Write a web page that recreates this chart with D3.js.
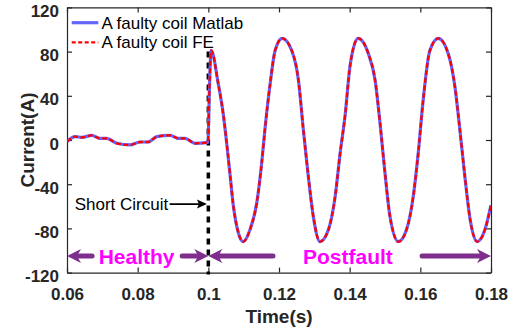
<!DOCTYPE html>
<html>
<head>
<meta charset="utf-8">
<script src="https://cdn.jsdelivr.net/npm/d3@7"></script>
<style>
  html, body { margin: 0; padding: 0; background: #fff; }
  svg { display: block; }
  text { font-family: "Liberation Sans", Arial, Helvetica, sans-serif; }
</style>
</head>
<body>
<svg id="chart" width="523" height="330"></svg>
<script>
// Sample times (s)
const timeS = [0.0600, 0.0623, 0.0642, 0.0670, 0.0693, 0.0712, 0.0741, 0.0778, 0.0807, 0.0830,
  0.0854, 0.0892, 0.0915, 0.0934, 0.0962, 0.0995, 0.0999, 0.1003, 0.1008, 0.1028,
  0.1042, 0.1052, 0.1061, 0.1071, 0.1085, 0.1099, 0.1118, 0.1137, 0.1151, 0.1160,
  0.1175, 0.1189, 0.1209, 0.1236, 0.1255, 0.1269, 0.1283, 0.1297, 0.1316, 0.1340,
  0.1359, 0.1373, 0.1387, 0.1401, 0.1424, 0.1453, 0.1472, 0.1486, 0.1500, 0.1514,
  0.1538, 0.1561, 0.1580, 0.1594, 0.1608, 0.1627, 0.1651, 0.1679, 0.1698, 0.1712,
  0.1726, 0.1741, 0.1761, 0.1783, 0.1800];

// Faulty coil current, Matlab model (A)
const currentMatlab = [-1.5, 3, 2.4, 4.2, 1.5, 1.5, -3, -4.5, -1.8, -1.8,
  3, 4.2, 1.5, 1.5, -3, -2.4, -2, 45, 81, 51,
  24, -3, -30, -60, -84, -92, -81, -57, -21, 9,
  51, 81, 92, 81, 54, 9, -33, -69, -92, -81,
  -51, -12, 22, 67, 92, 78, 54, 15, -30, -69,
  -92, -81, -51, -12, 36, 81, 92, 78, 48, 9,
  -33, -72, -92, -81, -59];

// Faulty coil current, finite-element model (A)
const currentFE = [-1.5, 3, 2.4, 4.2, 1.5, 1.5, -3, -4.5, -1.8, -1.8,
  3, 4.2, 1.5, 1.5, -3, -2.4, -2, 45, 81, 51,
  24, -3, -30, -60, -84, -92, -81, -57, -21, 9,
  51, 81, 92, 81, 54, 9, -33, -69, -92, -81,
  -51, -12, 22, 67, 92, 78, 54, 15, -30, -69,
  -92, -81, -51, -12, 36, 81, 92, 78, 48, 9,
  -33, -72, -92, -81, -59];

const xTicks = [0.06, 0.08, 0.1, 0.12, 0.14, 0.16, 0.18];
const xTickLabels = ["0.06", "0.08", "0.1", "0.12", "0.14", "0.16", "0.18"];
const yTicks = [-120, -80, -40, 0, 40, 80, 120];
const yTickLabels = ["-120", "-80", "-40", "0", "40", "80", "120"];

const seriesNames = ["A faulty coil Matlab", "A faulty coil FE"];

// Event marker and region annotations
const faultTime = 0.1;
const faultLineTop = 80;
const shortCircuitArrow = { t0: 0.0892, t1: 0.0996, v: -58, label: "Short Circuit" };
const regionArrowLevel = -105;
const regions = [
  { label: "Healthy",   center: 0.0797, left: [0.0671, 0.06], right: [0.0926, 0.1] },
  { label: "Postfault", center: 0.1395, left: [0.1183, 0.1], right: [0.1605, 0.18] }
];

const svg = d3.select("#chart");
const margin = { left: 67, right: 32, top: 7.4, bottom: 57.4 };
const W = 523, H = 330;

const x = d3.scaleLinear().domain([0.06, 0.18]).range([margin.left, W - margin.right]);
const y = d3.scaleLinear().domain([-120, 120]).range([H - margin.bottom, margin.top]);

const axisColor = "#262626";

svg.append("defs").append("clipPath").attr("id", "plotClip")
  .append("rect")
  .attr("x", x.range()[0]).attr("y", y.range()[1])
  .attr("width", x.range()[1] - x.range()[0])
  .attr("height", y.range()[0] - y.range()[1]);

// Axes box with inward ticks on all four sides
const tickLen = 5;
const axB = d3.axisBottom(x).tickValues(xTicks).tickFormat((d, i) => xTickLabels[i])
  .tickSizeInner(-tickLen).tickSizeOuter(0).tickPadding(15.5);
const axT = d3.axisTop(x).tickValues(xTicks).tickFormat("").tickSizeInner(-tickLen).tickSizeOuter(0);
const axL = d3.axisLeft(y).tickValues(yTicks).tickFormat((d, i) => yTickLabels[i])
  .tickSizeInner(-tickLen).tickSizeOuter(0).tickPadding(8);
const axR = d3.axisRight(y).tickValues(yTicks).tickFormat("").tickSizeInner(-tickLen).tickSizeOuter(0);

function styleAxis(g) {
  g.selectAll("path.domain").attr("stroke", axisColor).attr("stroke-width", 1.2);
  g.selectAll(".tick line").attr("stroke", axisColor).attr("stroke-width", 1.2);
  g.selectAll(".tick text").attr("fill", axisColor)
    .style("font-family", "'Liberation Sans', Arial, sans-serif")
    .style("font-size", "17px").style("font-weight", "bold");
}

svg.append("g").attr("transform", `translate(0,${y(-120)})`).call(axB).call(styleAxis);
svg.append("g").attr("transform", `translate(0,${y(120)})`).call(axT).call(styleAxis);
svg.append("g").attr("transform", `translate(${x(0.06)},0)`).call(axL).call(styleAxis)
  .selectAll(".tick text").attr("dy", "9px");
svg.append("g").attr("transform", `translate(${x(0.18)},0)`).call(axR).call(styleAxis);

// Axis titles
svg.append("text")
  .attr("x", (x.range()[0] + x.range()[1]) / 2)
  .attr("y", 323)
  .attr("text-anchor", "middle")
  .attr("fill", axisColor)
  .style("font-size", "19px").style("font-weight", "bold")
  .text("Time(s)");

svg.append("text")
  .attr("transform", `translate(34,${(y.range()[0] + y.range()[1]) / 2}) rotate(-90)`)
  .attr("text-anchor", "middle")
  .attr("fill", axisColor)
  .style("font-size", "19px").style("font-weight", "bold")
  .text("Current(A)");

// Fault instant marker
svg.append("line")
  .attr("x1", x(faultTime)).attr("x2", x(faultTime))
  .attr("y1", y(faultLineTop)).attr("y2", y(-120) + 2)
  .attr("stroke", "#000").attr("stroke-width", 3.5)
  .attr("stroke-dasharray", "6,5");

// Current traces
const plot = svg.append("g").attr("clip-path", "url(#plotClip)");
const line = d3.line()
  .x((d, i) => x(timeS[i]))
  .y(d => y(d))
  .curve(d3.curveMonotoneX);

plot.append("path").datum(currentMatlab)
  .attr("d", line)
  .attr("fill", "none")
  .attr("stroke", "#6464ff")
  .attr("stroke-width", 3.2)
  .attr("stroke-linejoin", "round");

plot.append("path").datum(currentFE)
  .attr("d", line)
  .attr("fill", "none")
  .attr("stroke", "#ff0000")
  .attr("stroke-width", 2.3)
  .attr("stroke-dasharray", "5,2.5");

// Legend (no frame)
const legend = svg.append("g");
const legendRows = [
  { y: 22.7, stroke: "#6464ff", width: 3.2, dash: null },
  { y: 42.3, stroke: "#ff0000", width: 2.3, dash: "4,2.5" }
];
legendRows.forEach((r, i) => {
  legend.append("line")
    .attr("x1", 71.7).attr("x2", 98.3).attr("y1", r.y).attr("y2", r.y)
    .attr("stroke", r.stroke).attr("stroke-width", r.width)
    .attr("stroke-dasharray", r.dash);
  legend.append("text")
    .attr("x", 101.5).attr("y", r.y)
    .attr("dy", "0.35em")
    .attr("fill", "#000")
    .style("font-size", "17px")
    .text(seriesNames[i]);
});

// Arrow helper: shaft plus notched head, head tip at (x2, yv)
function drawArrow(g, t0, t1, v, color, shaftW, headL, headW, notch) {
  const x0 = x(t0), x1 = x(t1), yy = y(v);
  const dir = x1 > x0 ? 1 : -1;
  g.append("line")
    .attr("x1", x0).attr("x2", x1 - dir * (headL - notch))
    .attr("y1", yy).attr("y2", yy)
    .attr("stroke", color).attr("stroke-width", shaftW)
    .attr("stroke-linecap", "round");
  const p = d3.path();
  p.moveTo(x1, yy);
  p.lineTo(x1 - dir * headL, yy - headW);
  p.lineTo(x1 - dir * (headL - notch), yy);
  p.lineTo(x1 - dir * headL, yy + headW);
  p.closePath();
  g.append("path").attr("d", p.toString()).attr("fill", color);
}

// Short circuit annotation
const ann = svg.append("g");
ann.append("text")
  .attr("x", x(shortCircuitArrow.t0) - 2)
  .attr("y", y(shortCircuitArrow.v))
  .attr("dy", "0.35em")
  .attr("text-anchor", "end")
  .attr("fill", "#000")
  .style("font-size", "17px")
  .text(shortCircuitArrow.label);
drawArrow(ann, shortCircuitArrow.t0, shortCircuitArrow.t1, shortCircuitArrow.v, "#000", 1.6, 10, 4.5, 2);

// Region arrows and labels
const purple = "#7e2f8e";
regions.forEach(r => {
  drawArrow(ann, r.left[0], r.left[1], regionArrowLevel, purple, 5, 14, 7, 4);
  drawArrow(ann, r.right[0], r.right[1], regionArrowLevel, purple, 5, 14, 7, 4);
  ann.append("text")
    .attr("x", x(r.center))
    .attr("y", y(regionArrowLevel))
    .attr("dy", "0.36em")
    .attr("text-anchor", "middle")
    .attr("fill", "#ff00ff")
    .style("font-size", "21px").style("font-weight", "bold")
    .text(r.label);
});
</script>
</body>
</html>
